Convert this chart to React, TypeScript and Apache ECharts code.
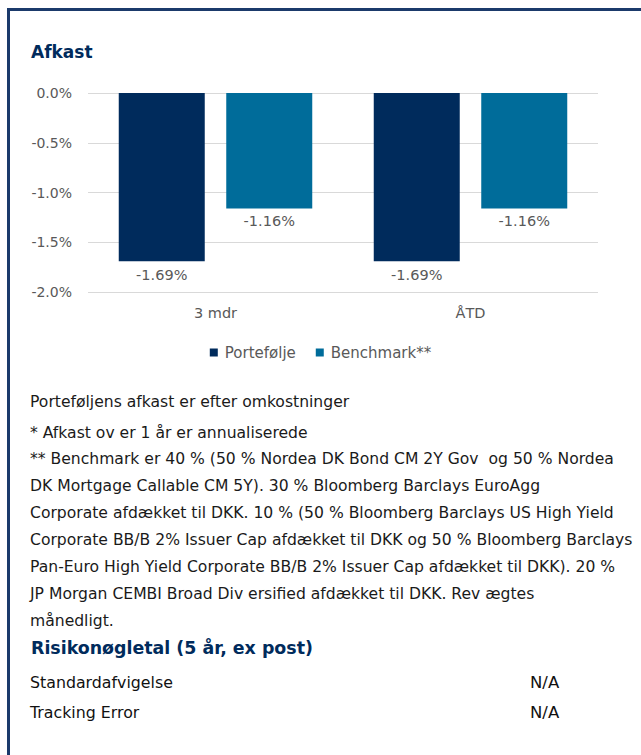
import React, { useEffect, useRef } from "react";
import * as echarts from "echarts";

const categories = ["3 mdr", "ÅTD"];
const portfolio = [-1.69, -1.69];
const benchmark = [-1.16, -1.16];
const seriesNames = ["Portefølje", "Benchmark**"];
const yTicks = { min: -2, max: 0, interval: 0.5 };

const noteLines = [
  "Porteføljens afkast er efter omkostninger",
  "* Afkast ov er 1 år er annualiserede",
  "** Benchmark er 40 % (50 % Nordea DK Bond CM 2Y Gov  og 50 % Nordea",
  "DK Mortgage Callable CM 5Y). 30 % Bloomberg Barclays EuroAgg",
  "Corporate afdækket til DKK. 10 % (50 % Bloomberg Barclays US High Yield",
  "Corporate BB/B 2% Issuer Cap afdækket til DKK og 50 % Bloomberg Barclays",
  "Pan-Euro High Yield Corporate BB/B 2% Issuer Cap afdækket til DKK). 20 %",
  "JP Morgan CEMBI Broad Div ersified afdækket til DKK. Rev ægtes",
  "månedligt.",
];
const noteY = [402, 433, 459, 486, 513, 540, 567, 594, 621];

const riskTitle = "Risikonøgletal (5 år, ex post)";
const riskLabels = ["Standardafvigelse", "Tracking Error"];
const riskValues = ["N/A", "N/A"];
const riskY = [682, 712];

const FONT = "'DejaVu Sans', sans-serif";
const NAVY = "#002b5c";
const TEAL = "#006c9a";
const GRAY = "#595959";

export default function App() {
  const ref = useRef<HTMLDivElement>(null);
  useEffect(() => {
    if (!ref.current) return;
    const chart = echarts.init(ref.current, null, { renderer: "svg" });
    const graphics: any[] = [
      {
        type: "rect",
        shape: { x: 8.5, y: 9.5, width: 700, height: 800 },
        style: { fill: "none", stroke: "#1b3a6b", lineWidth: 3 },
        silent: true,
      },
      {
        type: "text",
        x: 31,
        y: 52,
        style: {
          text: "Afkast",
          fill: NAVY,
          font: `bold 17px ${FONT}`,
          textVerticalAlign: "middle",
        },
      },
      ...noteLines.map((t, i) => ({
        type: "text",
        x: 30,
        y: noteY[i],
        style: {
          text: t,
          fill: "#1a1a1a",
          font: `15.6px ${FONT}`,
          textVerticalAlign: "middle",
        },
      })),
      {
        type: "text",
        x: 31,
        y: 648,
        style: {
          text: riskTitle,
          fill: NAVY,
          font: `bold 17.4px ${FONT}`,
          textVerticalAlign: "middle",
        },
      },
      ...riskLabels.map((t, i) => ({
        type: "text",
        x: 30,
        y: riskY[i],
        style: {
          text: t,
          fill: "#111111",
          font: `15.8px ${FONT}`,
          textVerticalAlign: "middle",
        },
      })),
      ...riskValues.map((t, i) => ({
        type: "text",
        x: 530,
        y: riskY[i],
        style: {
          text: t,
          fill: "#111111",
          font: `16.5px ${FONT}`,
          textVerticalAlign: "middle",
        },
      })),
    ];

    chart.setOption({
      animation: false,
      textStyle: { fontFamily: FONT },
      grid: { left: 88, right: 43, top: 93, bottom: 463, containLabel: false },
      legend: {
        data: seriesNames,
        top: 340,
        left: "center",
        icon: "rect",
        itemWidth: 8,
        itemHeight: 8,
        itemGap: 20,
        textStyle: { color: GRAY, fontSize: 15, fontFamily: FONT, padding: [0, 0, 0, 2] },
      },
      xAxis: {
        type: "category",
        data: categories,
        position: "bottom",
        axisLine: { show: false },
        axisTick: { show: false },
        axisLabel: { color: GRAY, fontSize: 14.5, margin: 13, fontFamily: FONT },
      },
      yAxis: {
        type: "value",
        min: yTicks.min,
        max: yTicks.max,
        interval: yTicks.interval,
        axisLine: { show: false },
        axisTick: { show: false },
        axisLabel: {
          color: GRAY,
          fontSize: 14,
          margin: 16,
          fontFamily: FONT,
          formatter: (v: number) => v.toFixed(1) + "%",
        },
        splitLine: { lineStyle: { color: "#d9d9d9", width: 1 } },
      },
      series: [
        {
          name: seriesNames[0],
          type: "bar",
          data: portfolio,
          barWidth: 86,
          barGap: "25%",
          itemStyle: { color: NAVY },
          label: {
            show: true,
            position: "bottom",
            distance: 6,
            color: GRAY,
            fontSize: 14.5,
            fontFamily: FONT,
            formatter: (p: any) => p.value.toFixed(2) + "%",
          },
        },
        {
          name: seriesNames[1],
          type: "bar",
          data: benchmark,
          barWidth: 86,
          itemStyle: { color: TEAL },
          label: {
            show: true,
            position: "bottom",
            distance: 5,
            color: GRAY,
            fontSize: 14.5,
            fontFamily: FONT,
            formatter: (p: any) => p.value.toFixed(2) + "%",
          },
        },
      ],
      graphic: graphics,
    });
    return () => chart.dispose();
  }, []);
  return (
    <div
      ref={ref}
      style={{ position: "absolute", left: 0, top: 0, width: 641, height: 755, background: "#fff" }}
    />
  );
}
